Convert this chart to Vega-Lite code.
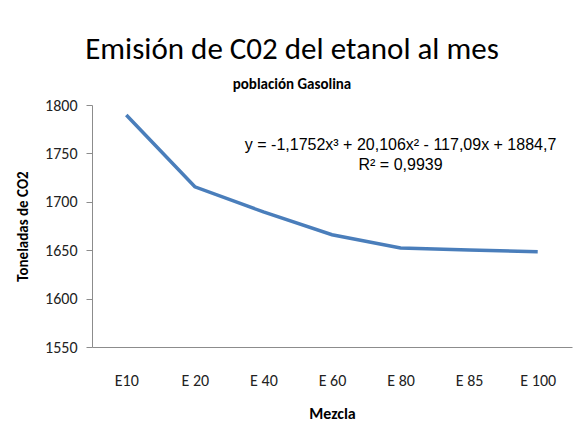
{
  "$schema": "https://vega.github.io/schema/vega-lite/v6.json",
  "width": 480,
  "height": 242,
  "autosize": {"type": "none"},
  "padding": {"left": 92, "top": 105, "right": 6, "bottom": 90},
  "background": "white",
  "title": {
    "text": "Emisión de C02 del etanol al mes",
    "subtitle": "población Gasolina",
    "anchor": "middle",
    "frame": "group",
    "dx": -40,
    "offset": 4,
    "font": "Carlito, Liberation Sans Narrow, DejaVu Sans Condensed, sans-serif",
    "fontSize": 31,
    "fontWeight": "normal",
    "color": "black",
    "subtitleFont": "Carlito, Liberation Sans Narrow, DejaVu Sans Condensed, sans-serif",
    "subtitleFontSize": 15,
    "subtitleFontWeight": "bold",
    "subtitleColor": "black",
    "subtitlePadding": 11
  },
  "config": {
    "view": {"stroke": null},
    "axis": {
      "grid": false,
      "domainColor": "#8c8c8c",
      "tickColor": "#8c8c8c",
      "labelColor": "#222222",
      "titleColor": "black",
      "labelFont": "Carlito, Liberation Sans Narrow, DejaVu Sans Condensed, sans-serif",
      "titleFont": "Carlito, Liberation Sans Narrow, DejaVu Sans Condensed, sans-serif"
    }
  },
  "layer": [
    {
      "data": {
        "values": [
          {"mezcla": "E10", "toneladas": 1789.7},
          {"mezcla": "E 20", "toneladas": 1715.5},
          {"mezcla": "E 40", "toneladas": 1689.5},
          {"mezcla": "E 60", "toneladas": 1666},
          {"mezcla": "E 80", "toneladas": 1652.2},
          {"mezcla": "E 85", "toneladas": 1650.2},
          {"mezcla": "E 100", "toneladas": 1648.4}
        ]
      },
      "mark": {"type": "line", "color": "#4a7ebb", "strokeWidth": 3.5},
      "encoding": {
        "x": {
          "field": "mezcla",
          "type": "ordinal",
          "sort": null,
          "axis": {
            "title": "Mezcla",
            "labelAngle": 0,
            "ticks": false,
            "tickSize": 0,
            "labelPadding": 25,
            "labelFontSize": 16,
            "titleFontSize": 16,
            "titleFontWeight": "bold",
            "titlePadding": 17
          }
        },
        "y": {
          "field": "toneladas",
          "type": "quantitative",
          "scale": {"domain": [1550, 1800], "nice": false, "zero": false},
          "axis": {
            "title": "Toneladas de CO2",
            "format": "d",
            "values": [1550, 1600, 1650, 1700, 1750, 1800],
            "tickSize": 6,
            "labelPadding": 9,
            "labelFontSize": 16,
            "titleFontSize": 15,
            "titleFontWeight": "bold",
            "titlePadding": 14
          }
        }
      }
    },
    {
      "data": {"values": [{}]},
      "mark": {"type": "text", "font": "Liberation Sans", "fontSize": 16, "color": "black", "align": "center", "baseline": "middle"},
      "encoding": {
        "x": {"datum": "E 80", "type": "ordinal"},
        "y": {"datum": 1758.5, "type": "quantitative"},
        "text": {"value": "y = -1,1752x³ + 20,106x² - 117,09x + 1884,7"}
      }
    },
    {
      "data": {"values": [{}]},
      "mark": {"type": "text", "font": "Liberation Sans", "fontSize": 16, "color": "black", "align": "center", "baseline": "middle"},
      "encoding": {
        "x": {"datum": "E 80", "type": "ordinal"},
        "y": {"datum": 1738, "type": "quantitative"},
        "text": {"value": "R² = 0,9939"}
      }
    }
  ]
}
